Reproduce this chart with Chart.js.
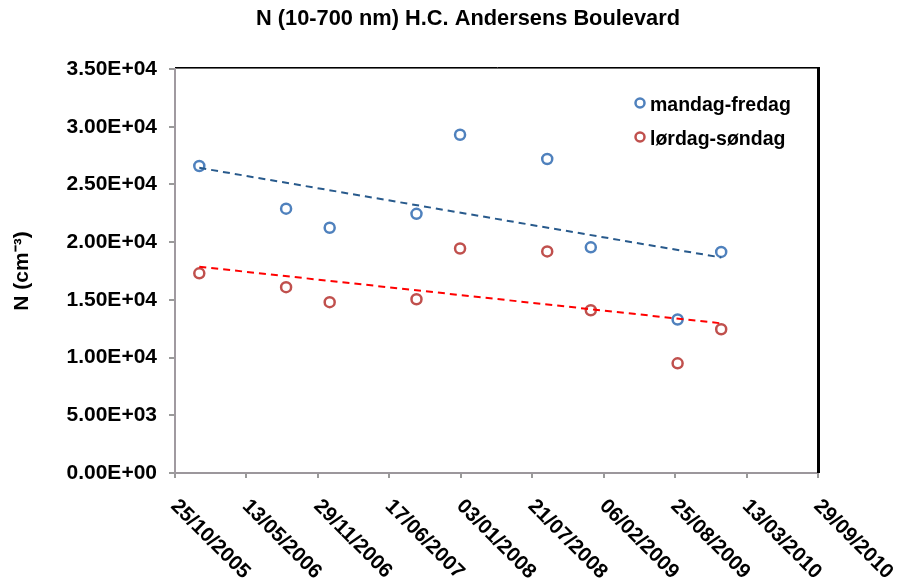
<!DOCTYPE html>
<html>
<head>
<meta charset="utf-8">
<script src="https://cdn.jsdelivr.net/npm/chart.js@4.4.0/dist/chart.umd.min.js"></script>
<style>
  html, body { margin: 0; padding: 0; background: #fff; }
  #wrap { width: 904px; height: 583px; }
</style>
</head>
<body>
<div id="wrap"><canvas id="ufpChart" width="904" height="583"></canvas></div>
<script>
// measurement campaigns and mean particle number (10-700 nm)
const measureDates = ['2006-01-01', '2006-09-01', '2007-01-01', '2007-09-01', '2008-01-01',
                      '2008-09-01', '2009-01-01', '2009-09-01', '2010-01-01'];
const weekdayValues = [26600, 22900, 21250, 22450, 29300, 27200, 19550, 13300, 19150];
const weekendValues = [17300, 16100, 14800, 15050, 19450, 19200, 14100, 9500, 12450];
const seriesNames = ['mandag-fredag', 'lørdag-søndag'];

// axis range
const xAxisStart = '2005-10-25';
const xAxisEnd = '2010-09-29';
const xStepDays = 200;
const yMax = 35000;
const yStep = 5000;

const DAY = 86400000;
const FONT = '"Liberation Sans", Arial, sans-serif';

function dayNum(s) {
    const p = s.split('-');
    return Date.UTC(+p[0], +p[1] - 1, +p[2]) / DAY;
}

function fmtDate(d) {
    const dt = new Date(Math.round(d) * DAY);
    const dd = String(dt.getUTCDate()).padStart(2, '0');
    const mm = String(dt.getUTCMonth() + 1).padStart(2, '0');
    return dd + '/' + mm + '/' + dt.getUTCFullYear();
}

// 3.50E+04 style
function fmtSci(v) {
    const s = Number(v).toExponential(2).toUpperCase();
    const [m, e] = s.split('E');
    const sign = e[0] === '-' ? '-' : '+';
    return m + 'E' + sign + e.replace(/[+-]/, '').padStart(2, '0');
}

// least squares line over the data range
function trendLine(xs, ys) {
    const n = xs.length;
    const mx = xs.reduce((a, b) => a + b, 0) / n;
    const my = ys.reduce((a, b) => a + b, 0) / n;
    let sxy = 0, sxx = 0;
    for (let i = 0; i < n; i++) {
        sxy += (xs[i] - mx) * (ys[i] - my);
        sxx += (xs[i] - mx) * (xs[i] - mx);
    }
    const b = sxy / sxx, a = my - b * mx;
    const x0 = Math.min(...xs), x1 = Math.max(...xs);
    return [{ x: x0, y: a + b * x0 }, { x: x1, y: a + b * x1 }];
}

const xs = measureDates.map(dayNum);
const weekdayPts = xs.map((x, i) => ({ x: x, y: weekdayValues[i] }));
const weekendPts = xs.map((x, i) => ({ x: x, y: weekendValues[i] }));

const blue = '#4F81BD';
const red = '#C0504D';

// frame, rotated date labels, legend and title
const extras = {
    id: 'extras',
    afterDraw(chart) {
        const ctx = chart.ctx;
        const area = chart.chartArea;
        ctx.save();

        // top and right frame
        ctx.strokeStyle = '#000';
        ctx.lineWidth = 1;
        ctx.beginPath();
        ctx.moveTo(area.left, area.top - 1.5);
        ctx.lineTo(area.right + 2, area.top - 1.5);
        ctx.stroke();
        ctx.strokeStyle = '#6b6b6b';
        ctx.beginPath();
        ctx.moveTo(area.left + 1, area.top - 0.5);
        ctx.lineTo(area.right, area.top - 0.5);
        ctx.stroke();
        ctx.strokeStyle = '#000';
        ctx.lineWidth = 3;
        ctx.beginPath();
        ctx.moveTo(area.right + 0.5, area.top - 2);
        ctx.lineTo(area.right + 0.5, area.bottom);
        ctx.stroke();

        // x labels, turned 45 degrees down to the right
        const xScale = chart.scales.x;
        ctx.fillStyle = '#000';
        ctx.font = 'bold 20.5px ' + FONT;
        ctx.textAlign = 'left';
        ctx.textBaseline = 'alphabetic';
        xScale.ticks.forEach(t => {
            const px = xScale.getPixelForValue(t.value);
            ctx.save();
            ctx.translate(px - 5, area.bottom + 34);
            ctx.rotate(Math.PI / 4);
            ctx.fillText(fmtDate(t.value), 0, 0);
            ctx.restore();
        });

        // legend
        const lx = area.right - 178;
        [[blue, seriesNames[0]], [red, seriesNames[1]]].forEach((item, i) => {
            const ly = area.top + 34 + i * 34;
            ctx.strokeStyle = item[0];
            ctx.lineWidth = 2.5;
            ctx.beginPath();
            ctx.arc(lx, ly, 4.5, 0, Math.PI * 2);
            ctx.stroke();
            ctx.fillStyle = '#000';
            ctx.font = 'bold 19.5px ' + FONT;
            ctx.fillText(item[1], lx + 10, ly + 8);
        });

        // title
        ctx.textAlign = 'center';
        ctx.font = 'bold 21.8px ' + FONT;
        ctx.fillText('N (10-700 nm) H.C. Andersens Boulevard', 468, 25);

        ctx.restore();
    }
};

const ctx = document.getElementById('ufpChart');

new Chart(ctx, {
    type: 'scatter',
    data: {
        datasets: [
            {
                data: trendLine(xs, weekdayValues),
                showLine: true,
                borderColor: '#285A8C',
                borderWidth: 2,
                borderDash: [7, 5],
                pointRadius: 0,
                order: 0
            },
            {
                data: trendLine(xs, weekendValues),
                showLine: true,
                borderColor: '#FF0000',
                borderWidth: 2,
                borderDash: [7, 5],
                pointRadius: 0,
                order: 0
            },
            {
                label: seriesNames[0],
                data: weekdayPts,
                pointRadius: 5,
                pointBorderWidth: 2.5,
                pointBorderColor: blue,
                pointBackgroundColor: 'rgba(255,255,255,0)',
                order: 1
            },
            {
                label: seriesNames[1],
                data: weekendPts,
                pointRadius: 5,
                pointBorderWidth: 2.5,
                pointBorderColor: red,
                pointBackgroundColor: 'rgba(255,255,255,0)',
                order: 1
            }
        ]
    },
    options: {
        responsive: false,
        animation: false,
        devicePixelRatio: 1,
        layout: { padding: { left: 0, right: 86, top: 69, bottom: 0 } },
        plugins: {
            legend: { display: false },
            tooltip: { enabled: false }
        },
        scales: {
            x: {
                type: 'linear',
                min: dayNum(xAxisStart),
                max: dayNum(xAxisEnd),
                ticks: { stepSize: xStepDays, display: false },
                grid: {
                    drawOnChartArea: false,
                    drawTicks: true,
                    tickLength: 5,
                    color: '#9a9a9a',
                    lineWidth: 2
                },
                border: { color: '#9c979c', width: 2 },
                afterFit(scale) { scale.height = 110; }
            },
            y: {
                min: 0,
                max: yMax,
                ticks: {
                    stepSize: yStep,
                    callback: v => fmtSci(v),
                    color: '#000',
                    font: { family: FONT, size: 21, weight: 'bold' },
                    padding: 12
                },
                grid: {
                    drawOnChartArea: false,
                    drawTicks: true,
                    tickLength: 6,
                    color: '#9a9a9a',
                    lineWidth: 2
                },
                border: { color: '#a09aa0', width: 2 },
                title: {
                    display: true,
                    text: 'N (cm⁻³)',
                    color: '#000',
                    font: { family: FONT, size: 21, weight: 'bold' },
                    padding: { top: 10, bottom: 0 }
                },
                afterFit(scale) { scale.width = 175; }
            }
        }
    },
    plugins: [extras]
});
</script>
</body>
</html>
